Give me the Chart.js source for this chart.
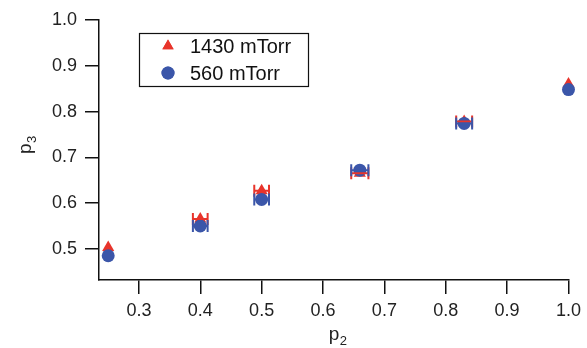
<!DOCTYPE html>
<html>
<head>
<meta charset="utf-8">
<script src="https://cdn.jsdelivr.net/npm/chart.js@4/dist/chart.umd.min.js"></script>
<style>
  html, body { margin: 0; padding: 0; background: #fff; }
  #wrap { width: 587px; height: 348px; position: relative; }
</style>
</head>
<body>
<div id="wrap"><canvas id="c"></canvas></div>
<script>
// datos
const p2 = [0.25, 0.40, 0.50, 0.66, 0.83, 1.0];
const p3_1430 = [0.503, 0.565, 0.627, 0.665, 0.778, 0.860];
const p3_560 = [0.485, 0.550, 0.608, 0.672, 0.774, 0.848];
const p2Err = [0, 0.012, 0.012, 0.014, 0.013, 0];
const xTicks = [0.3, 0.4, 0.5, 0.6, 0.7, 0.8, 0.9, 1.0];
const yTicks = [0.5, 0.6, 0.7, 0.8, 0.9, 1.0];

const RED = '#e8342b';
const BLUE = '#3b56a9';
const FONT = '"Liberation Sans", Arial, sans-serif';

const toPts = (ys) => p2.map((x, i) => ({ x: x, y: ys[i] }));

// barras de error horizontales con topes verticales
const errorBars = {
    id: 'errorBars',
    afterDatasetsDraw(chart) {
        const ctx = chart.ctx;
        const xs = chart.scales.x, ys = chart.scales.y;
        chart.data.datasets.forEach((ds) => {
            ctx.save();
            ctx.strokeStyle = ds.borderColor;
            ctx.lineWidth = 2;
            ds.data.forEach((pt, i) => {
                const e = p2Err[i];
                if (!e) return;
                const x0 = xs.getPixelForValue(pt.x - e);
                const x1 = xs.getPixelForValue(pt.x + e);
                const y = ys.getPixelForValue(pt.y);
                ctx.beginPath();
                ctx.moveTo(x0, y); ctx.lineTo(x1, y);
                ctx.moveTo(x0, y - 6); ctx.lineTo(x0, y + 6);
                ctx.moveTo(x1, y - 6); ctx.lineTo(x1, y + 6);
                ctx.stroke();
            });
            ctx.restore();
        });
    }
};

// titulos de ejes con subindice
const axisTitles = {
    id: 'axisTitles',
    afterDraw(chart) {
        const ctx = chart.ctx;
        const a = chart.chartArea;
        ctx.save();
        ctx.fillStyle = '#222';
        ctx.textBaseline = 'alphabetic';
        // p2 abajo
        const cx = (a.left + a.right) / 2 + 2;
        ctx.font = '19px ' + FONT;
        ctx.fillText('p', cx - 7, 340);
        ctx.font = '13px ' + FONT;
        ctx.fillText('2', cx + 4, 345);
        // p3 a la izquierda, rotado
        ctx.translate(31, 147);
        ctx.rotate(-Math.PI / 2);
        ctx.font = '19px ' + FONT;
        ctx.fillText('p', -7, 0);
        ctx.font = '13px ' + FONT;
        ctx.fillText('3', 4, 5);
        ctx.restore();
    }
};

// leyenda dentro del area del grafico
const boxLegend = {
    id: 'boxLegend',
    afterDraw(chart) {
        const ctx = chart.ctx;
        ctx.save();
        ctx.strokeStyle = '#111';
        ctx.lineWidth = 1.2;
        ctx.strokeRect(139.5, 33.5, 169, 53);
        ctx.font = '20px ' + FONT;
        ctx.fillStyle = '#111';
        ctx.textBaseline = 'middle';
        const rows = [
            { ds: chart.data.datasets[0], y: 46 },
            { ds: chart.data.datasets[1], y: 73 }
        ];
        rows.forEach((r) => {
            ctx.save();
            ctx.fillStyle = r.ds.backgroundColor;
            Chart.helpers.drawPoint(ctx, { pointStyle: r.ds.pointStyle, radius: 6.5, rotation: 0, borderWidth: 0 }, 168, r.y);
            ctx.fill();
            ctx.restore();
            ctx.fillText(r.ds.label, 190, r.y + 1);
        });
        ctx.restore();
    }
};

new Chart(document.getElementById('c'), {
    type: 'scatter',
    data: {
        datasets: [{
            label: '1430 mTorr',
            data: toPts(p3_1430),
            pointStyle: 'triangle',
            pointRadius: 7,
            backgroundColor: RED,
            borderColor: RED,
            borderWidth: 0,
            clip: false,
            order: 1
        }, {
            label: '560 mTorr',
            data: toPts(p3_560),
            pointStyle: 'circle',
            pointRadius: 6.5,
            backgroundColor: BLUE,
            borderColor: BLUE,
            borderWidth: 0,
            clip: false,
            order: 0
        }]
    },
    options: {
        responsive: true,
        maintainAspectRatio: false,
        animation: false,
        layout: { padding: { left: 0, right: 14, top: 20, bottom: 0 } },
        plugins: { legend: { display: false }, tooltip: { enabled: false } },
        scales: {
            x: {
                type: 'linear',
                min: 0.235,
                max: 1.0,
                afterBuildTicks: (s) => { s.ticks = xTicks.map(v => ({ value: v })); },
                afterFit: (s) => { s.height = 68; },
                border: { display: true, color: '#111', width: 1.5 },
                grid: { drawOnChartArea: false, drawTicks: true, tickLength: 14, color: '#111', lineWidth: 1.5 },
                ticks: {
                    color: '#222',
                    padding: 6,
                    font: { family: FONT, size: 18 },
                    callback: (v) => Number(v).toFixed(1)
                }
            },
            y: {
                type: 'linear',
                min: 0.432,
                max: 1.0,
                afterBuildTicks: (s) => { s.ticks = yTicks.map(v => ({ value: v })); },
                afterFit: (s) => { s.width = 99; },
                border: { display: true, color: '#111', width: 1.5 },
                grid: { drawOnChartArea: false, drawTicks: true, tickLength: 14, color: '#111', lineWidth: 1.5 },
                ticks: {
                    color: '#222',
                    padding: 8,
                    font: { family: FONT, size: 18 },
                    callback: (v) => Number(v).toFixed(1)
                }
            }
        }
    },
    plugins: [errorBars, axisTitles, boxLegend]
});
</script>
</body>
</html>
